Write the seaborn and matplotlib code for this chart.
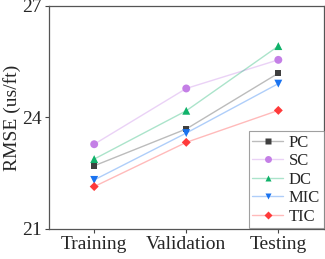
import pandas as pd
import matplotlib
matplotlib.use("Agg")
import matplotlib.pyplot as plt
import seaborn as sns

# RMSE values
stages = ["Training", "Validation", "Testing"]
methods = ["PC", "SC", "DC", "MIC", "TIC"]
pc = [22.70, 23.69, 25.19]
sc = [23.28, 24.78, 25.55]
dc = [22.88, 24.18, 25.92]
mic = [22.32, 23.58, 24.91]
tic = [22.14, 23.33, 24.19]

colors = ["#3f3f3f", "#c47fe6", "#10b26a", "#1a73f0", "#ff3a3a"]
markers = ["s", "o", "^", "v", "D"]
msizes = [4, 5, 5, 5, 4]


def main():
    sns.set_theme(style="ticks")
    plt.rcParams["font.family"] = "serif"
    plt.rcParams["font.serif"] = ["Liberation Serif", "Times New Roman", "DejaVu Serif"]

    df = pd.DataFrame({"stage": stages * 5,
                       "method": [m for m in methods for _ in stages],
                       "rmse": pc + sc + dc + mic + tic})

    fig, ax = plt.subplots(figsize=(3.25, 2.59), dpi=100)
    fig.subplots_adjust(left=0.151, right=0.998, top=0.977, bottom=0.116)

    for i, m in enumerate(methods):
        sub = df[df["method"] == m]
        sns.lineplot(ax=ax, data=sub, x="stage", y="rmse", color=colors[i],
                     alpha=0.35, lw=1.0, legend=False)
    # markers drawn on top at full opacity, handles built for legend
    handles = []
    for i, m in enumerate(methods):
        sub = df[df["method"] == m]
        sns.scatterplot(ax=ax, data=sub, x="stage", y="rmse", color=colors[i],
                        marker=markers[i], s=msizes[i] ** 2 * 1.3,
                        edgecolor="none", legend=False, zorder=3)
        h, = ax.plot([], [], color=matplotlib.colors.to_rgba(colors[i], 0.35),
                     marker=markers[i], ms=msizes[i], lw=1.0,
                     mfc=colors[i], mec="none")
        handles.append(h)

    ax.set_xlim(-0.49, 2.5)
    ax.set_ylim(21, 27)
    ax.set_yticks([21, 24, 27])
    ax.set_xlabel("")
    ax.set_ylabel("RMSE (us/ft)", fontsize=14, labelpad=1)
    ax.tick_params(axis="both", labelsize=14, direction="out", length=3,
                   width=0.8, color="#444444", pad=2)
    for s in ax.spines.values():
        s.set_color("#555555")
        s.set_linewidth(0.9)

    leg = ax.legend(handles, methods, loc="lower right", fontsize=12,
                    frameon=True, fancybox=False, edgecolor="#888888",
                    borderpad=0.2, labelspacing=0.15, handlelength=1.85,
                    handletextpad=0.35, borderaxespad=0.05)
    leg.get_frame().set_linewidth(0.8)

    fig.savefig("out.png", dpi=100)


if __name__ == "__main__":
    main()
